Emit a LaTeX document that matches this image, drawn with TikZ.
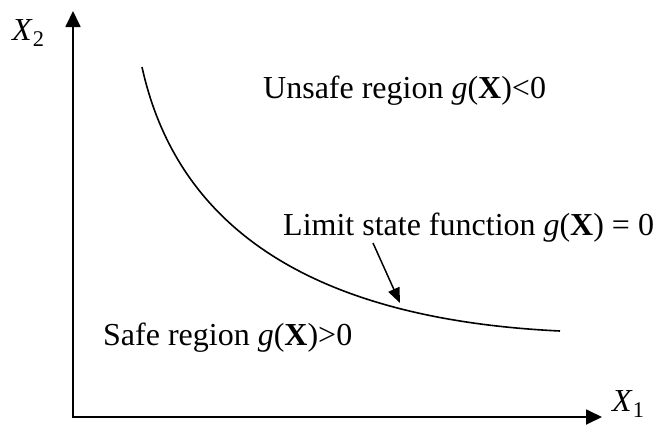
\documentclass[tikz,border=0pt]{standalone}
\usepackage{fontspec}
\setmainfont{Liberation Serif}
\usetikzlibrary{arrows.meta,positioning}

\begin{document}
\begin{tikzpicture}[>={Triangle[length=16pt,width=15pt]},x=1pt,y=-1pt,
  lbl/.style={font=\fontsize{32}{36}\selectfont,inner sep=0pt,anchor=base west}]
  \useasboundingbox (0,0) rectangle (656,424);
  % axes
  \coordinate (orig) at (73,417);
  \coordinate (xend) at (602,417);
  \coordinate (yend) at (73,11);
  \draw[->,line width=1.8pt] (orig) -- (yend);
  \draw[->,line width=1.8pt] ([xshift=-1pt]orig) -- (xend);
  \node[lbl] (x1) at (612,411) {\textit{X}\textsubscript{1}};
  \node[lbl] (x2) at (12,40) {\textit{X}\textsubscript{2}};
  % limit state curve
  \coordinate (c0) at (142,67);
  \coordinate (c1) at (180,240);
  \coordinate (c2) at (330,320);
  \coordinate (c3) at (560,331);
  \draw[line width=1.6pt] (c0) .. controls (c1) and (c2) .. (c3);
  % region labels
  \node[lbl] (unsafe) at (263,98) {Unsafe region \textit{g}(\textbf{X})<0};
  \node[lbl] (limit) at (283,235) {Limit state function \textit{g}(\textbf{X}) = 0};
  \node[lbl] (safe) at (103,345) {Safe region \textit{g}(\textbf{X})>0};
  \coordinate (tip) at (400,303);
  \draw[->,line width=1.5pt,>={Triangle[length=15pt,width=12pt]}] (limit.base west) ++(90,8) -- (tip);
\end{tikzpicture}
\end{document}
